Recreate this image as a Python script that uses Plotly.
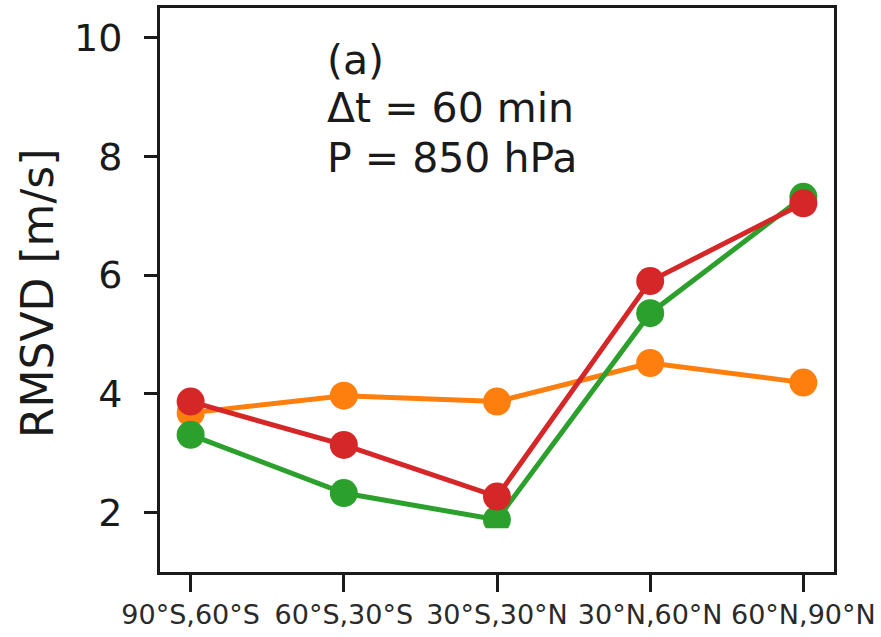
import plotly.graph_objects as go

# Latitude bands and RMSVD values (m/s) for each series
bands = ["90°S,60°S", "60°S,30°S", "30°S,30°N", "30°N,60°N", "60°N,90°N"]
rmsvd_orange = [3.68, 3.97, 3.87, 4.52, 4.19]
rmsvd_green = [3.31, 2.33, 1.88, 5.36, 7.32]
rmsvd_red = [3.87, 3.14, 2.27, 5.90, 7.21]

y_ticks = [2, 4, 6, 8, 10]
panel_lines = ["(a)", "Δt = 60 min", "P = 850 hPa"]

FONT = "DejaVu Sans"
INK = "#1a1a1a"

W, H = 881, 637
L, R, T, B = 160, 44, 5, 65
plot_w, plot_h = W - L - R, H - T - B


def px_x(px):
    return (px - L) / plot_w


def px_y(py):
    return 1 - (py - T) / plot_h


fig = go.Figure()
for vals, color in [(rmsvd_orange, "#ff7f0e"), (rmsvd_green, "#2ca02c"), (rmsvd_red, "#d62728")]:
    fig.add_trace(go.Scatter(
        x=list(range(len(bands))), y=vals, mode="lines+markers",
        line=dict(color=color, width=5),
        marker=dict(color=color, size=28),
        showlegend=False, cliponaxis=False,
    ))

axis_common = dict(
    showline=True, linecolor=INK, linewidth=3, mirror=True,
    ticks="outside", tickcolor=INK, tickwidth=2.5,
    showgrid=False, zeroline=False,
)

fig.update_xaxes(
    **axis_common, ticklen=17,
    range=[-0.2, 4.2], tickmode="array",
    tickvals=list(range(len(bands))), ticktext=bands,
    tickfont=dict(family=FONT, size=27, color="#2a2a2a"),
)
fig.update_yaxes(
    **axis_common, ticklen=13, ticklabelstandoff=14,
    range=[1.0, 10.5], tickmode="array", tickvals=y_ticks,
    ticktext=[str(v) for v in y_ticks],
    tickfont=dict(family=FONT, size=38, color=INK),
)

# Y-axis title
fig.add_annotation(
    text="RMSVD [m/s]", textangle=-90, xref="paper", yref="paper",
    x=px_x(37), y=px_y(292), xanchor="center", yanchor="middle",
    showarrow=False, font=dict(family=FONT, size=44, color=INK),
)

# Panel label and run settings
for line, py in zip(panel_lines, [57, 106, 156]):
    fig.add_annotation(
        text=line, xref="paper", yref="paper",
        x=px_x(326), y=px_y(py), xanchor="left", yanchor="middle",
        showarrow=False, font=dict(family=FONT, size=41, color=INK),
    )

# White mask over the lower band of the panel
fig.add_shape(
    type="rect", xref="paper", yref="paper",
    x0=px_x(175), x1=px_x(527), y0=px_y(570), y1=px_y(528),
    fillcolor="white", line=dict(width=0), layer="above",
)

fig.update_layout(
    width=W, height=H,
    margin=dict(l=L, r=R, t=T, b=B),
    paper_bgcolor="white", plot_bgcolor="white",
)

fig.write_html("out.html")
